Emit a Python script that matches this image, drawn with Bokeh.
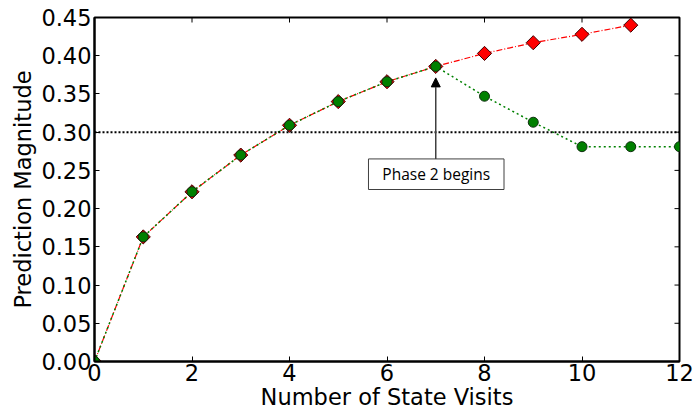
import math
from bokeh.plotting import figure
from bokeh.models import Span, Arrow, NormalHead, FixedTicker, PrintfTickFormatter, Range1d
from bokeh.core.properties import value
from bokeh.embed import file_html
from bokeh.resources import INLINE

# data
x_red = [0, 1, 2, 3, 4, 5, 6, 7, 8, 9, 10, 11]
y_red = [0.0, 0.163, 0.222, 0.270, 0.309, 0.340, 0.366, 0.386, 0.403, 0.417, 0.428, 0.440]
x_green = [0, 1, 2, 3, 4, 5, 6, 7, 8, 9, 10, 11, 12]
y_green = [0.0, 0.163, 0.222, 0.270, 0.309, 0.340, 0.366, 0.386, 0.347, 0.313, 0.281, 0.281, 0.281]
threshold = 0.30
x_ticks = [0, 2, 4, 6, 8, 10, 12]
y_ticks = [0.0, 0.05, 0.10, 0.15, 0.20, 0.25, 0.30, 0.35, 0.40, 0.45]
phase_x = 7
ann_text = "Phase 2 begins"
ann_box = (5.62, 8.40, 0.225, 0.265)  # left, right, bottom, top
ann_tip = 0.371

FONT = "DejaVu Sans"
x_lo, x_hi = x_ticks[0], x_ticks[-1]
y_lo, y_hi = y_ticks[0], y_ticks[-1]

p = figure(width=696, height=412, output_backend="svg", toolbar_location=None,
           x_range=Range1d(x_lo, x_hi), y_range=Range1d(y_lo, y_hi),
           min_border_left=94, min_border_right=17, min_border_top=17, min_border_bottom=50)
p.grid.visible = False
p.outline_line_color = "black"
p.outline_line_width = 2
p.background_fill_color = "white"
p.border_fill_color = "white"

p.xaxis.ticker = FixedTicker(ticks=x_ticks)
p.yaxis.ticker = FixedTicker(ticks=y_ticks)
p.yaxis.formatter = PrintfTickFormatter(format="%.2f")
p.xaxis.axis_label = "Number of State Visits"
p.yaxis.axis_label = "Prediction Magnitude"
for ax in [p.xaxis[0], p.yaxis[0]]:
    ax.axis_label_text_font = FONT
    ax.axis_label_text_font_style = "normal"
    ax.axis_label_text_font_size = "22.5px"
    ax.axis_label_text_color = "black"
    ax.major_label_text_font = FONT
    ax.major_label_text_font_size = "22.5px"
    ax.major_label_text_color = "black"
    ax.major_tick_in = 5
    ax.major_tick_out = 0
    ax.minor_tick_line_color = None
    ax.axis_line_width = 2
    ax.major_label_standoff = 3
p.xaxis.axis_label_standoff = 0
p.xaxis.major_label_standoff = 2
p.yaxis.axis_label_standoff = 2

# mirrored inside ticks on top and right edges
p.scatter(x=x_ticks, y=[y_hi] * len(x_ticks), marker="dash", angle=math.pi / 2, size=10,
          line_color="black", line_width=1)
p.scatter(x=[x_hi] * len(y_ticks), y=y_ticks, marker="dash", size=10,
          line_color="black", line_width=1)

p.add_layout(Span(location=threshold, dimension="width", line_color="black",
                  line_width=2, line_dash="2 2"))

p.line(x_red, y_red, line_color="red", line_width=1.2, line_dash="6 2 1 2")
p.line(x_green, y_green, line_color="green", line_width=1.5, line_dash="2 3")
p.scatter(x_red, y_red, marker="square", angle=math.pi / 4, size=10, fill_color="red",
          line_color="#400000", line_width=1)
p.scatter(x_green, y_green, marker="circle", size=10, fill_color="green", line_color="#103010", line_width=1)

p.add_layout(Arrow(end=NormalHead(size=9, fill_color="black", line_color="black"),
                   x_start=phase_x, y_start=ann_box[3], x_end=phase_x, y_end=ann_tip,
                   line_color="#404040", line_width=1.5))
p.quad(left=[ann_box[0]], right=[ann_box[1]], bottom=[ann_box[2]], top=[ann_box[3]],
       fill_color="white", line_color="#404040", line_width=1)
p.text(x=[(ann_box[0] + ann_box[1]) / 2], y=[(ann_box[2] + ann_box[3]) / 2], text=[ann_text],
       text_font=value("Open Sans"), text_font_size="15.5px", text_color="black",
       text_align="center", text_baseline="middle")

open("out.html", "w").write(file_html(p, INLINE))
